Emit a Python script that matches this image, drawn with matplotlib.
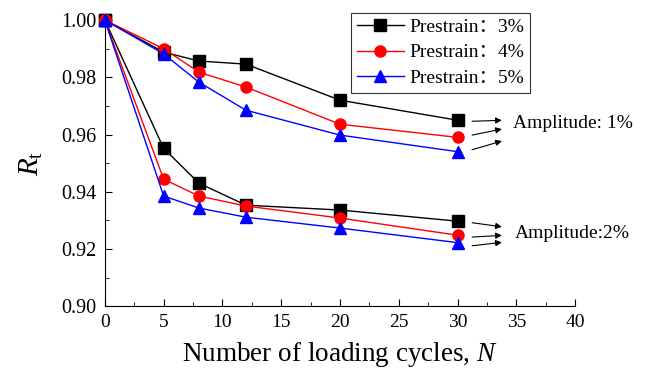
import matplotlib
matplotlib.use("Agg")
import matplotlib.pyplot as plt
from matplotlib.ticker import MultipleLocator, FormatStrFormatter

plt.rcParams['font.family'] = ['Liberation Serif', 'Noto Sans CJK SC', 'DejaVu Sans']
plt.rcParams['mathtext.fontset'] = 'custom'
plt.rcParams['mathtext.rm'] = 'Liberation Serif'
plt.rcParams['mathtext.it'] = 'Liberation Serif:italic'

# loading cycles
cycles = [0, 5, 8, 12, 20, 30]

# amplitude 1%
amp1_p3 = [1.000, 0.9888, 0.9857, 0.9846, 0.9720, 0.9650]
amp1_p4 = [1.000, 0.9900, 0.9818, 0.9766, 0.9636, 0.9590]
amp1_p5 = [1.000, 0.9882, 0.9783, 0.9685, 0.9598, 0.9540]

# amplitude 2%
amp2_p3 = [1.000, 0.9552, 0.9430, 0.9353, 0.9336, 0.9297]
amp2_p4 = [1.000, 0.9444, 0.9385, 0.9350, 0.9308, 0.9248]
amp2_p5 = [1.000, 0.9385, 0.9343, 0.9311, 0.9273, 0.9222]

labels = ['Prestrain\uff1a3%', 'Prestrain\uff1a4%', 'Prestrain\uff1a5%']
colors = ['black', 'red', 'blue']
markers = ['s', 'o', '^']

fig = plt.figure(figsize=(6.47, 3.72), dpi=100)
ax = fig.add_axes([0.162, 0.177, 0.727, 0.769])

for ys1, ys2, lab, c, m in zip([amp1_p3, amp1_p4, amp1_p5], [amp2_p3, amp2_p4, amp2_p5],
                              labels, colors, markers):
    ax.plot(cycles, ys1, color=c, marker=m, markersize=8, linewidth=1, label=lab,
            clip_on=False, zorder=3)
    ax.plot(cycles, ys2, color=c, marker=m, markersize=8, linewidth=1,
            clip_on=False, zorder=3)

# arrows pointing to the amplitude labels
arr = dict(arrowstyle='-|>', color='black', lw=0.8, mutation_scale=9)
for y0, y1 in [(0.9646, 0.9650), (0.9596, 0.9621), (0.9544, 0.9580)]:
    ax.annotate('', xy=(34.0, y1), xytext=(31.0, y0), arrowprops=arr, annotation_clip=False)
for y0, y1 in [(0.9293, 0.9276), (0.9241, 0.9248), (0.9210, 0.9224)]:
    ax.annotate('', xy=(34.0, y1), xytext=(31.0, y0), arrowprops=arr, annotation_clip=False)

ax.text(34.7, 0.9640, 'Amplitude: 1%', fontsize=14, va='center', ha='left')
ax.text(34.9, 0.9255, 'Amplitude:2%', fontsize=14, va='center', ha='left')

ax.set_xlim(0, 40)
ax.set_ylim(0.90, 1.00)
ax.xaxis.set_major_locator(MultipleLocator(5))
ax.xaxis.set_minor_locator(MultipleLocator(2.5))
ax.yaxis.set_major_locator(MultipleLocator(0.02))
ax.yaxis.set_minor_locator(MultipleLocator(0.01))
ax.yaxis.set_major_formatter(FormatStrFormatter('%.2f'))
ax.tick_params(which='both', direction='in')
ax.tick_params(axis='y', labelsize=14.5, pad=6)
ax.tick_params(axis='x', labelsize=14, pad=6)
ax.tick_params(which='major', length=5)
ax.tick_params(which='minor', length=3)
ax.spines['top'].set_visible(False)
ax.spines['right'].set_visible(False)

ax.set_xlabel('Number of loading cycles, $\\mathit{N}$', fontsize=19.5, labelpad=6)
ax.set_ylabel('$\\mathit{R}_{\\mathrm{t}}$', fontsize=21, labelpad=12)

leg = ax.legend(loc='upper left', bbox_to_anchor=(0.524, 1.026), fontsize=14,
                frameon=True, fancybox=False, edgecolor='black', handlelength=2.4,
                borderpad=0.3, labelspacing=0.4, handletextpad=0.3,
                borderaxespad=0)
leg.get_frame().set_linewidth(0.8)

fig.savefig('out.png', dpi=100)
